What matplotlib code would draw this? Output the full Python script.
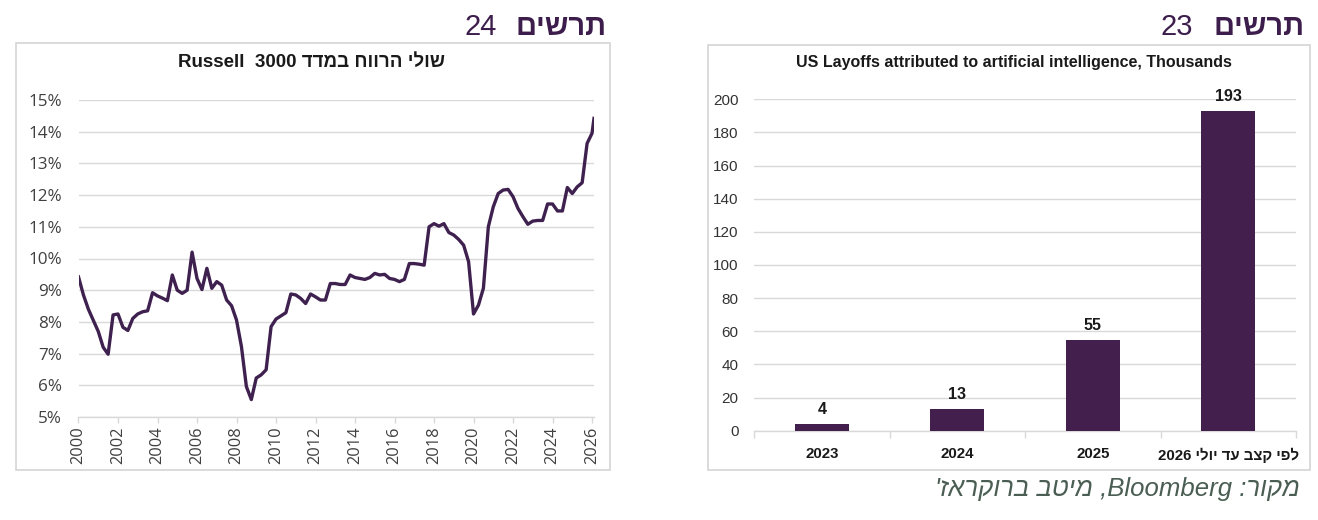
import re
import numpy as np
import matplotlib
matplotlib.use("Agg")
import matplotlib.pyplot as plt
from matplotlib.patches import Rectangle
from matplotlib import font_manager as fm

# ---------------- data ----------------
years = list(np.arange(2000, 2026.01, 0.25)) + [2026.1]
margin = [
    9.42, 8.85, 8.40, 8.05,
    7.70, 7.20, 6.98, 8.22,
    8.25, 7.83, 7.73, 8.11,
    8.25, 8.32, 8.35, 8.92,
    8.82, 8.75, 8.67, 9.48,
    9.00, 8.90, 9.00, 10.20,
    9.37, 9.02, 9.69, 9.06,
    9.27, 9.16, 8.69, 8.51,
    8.06, 7.22, 5.96, 5.55,
    6.23, 6.33, 6.49, 7.85,
    8.09, 8.19, 8.29, 8.88,
    8.85, 8.74, 8.58, 8.88,
    8.79, 8.69, 8.69, 9.21,
    9.21, 9.18, 9.18, 9.48,
    9.40, 9.37, 9.34, 9.40,
    9.53, 9.48, 9.50, 9.37,
    9.34, 9.27, 9.34, 9.84,
    9.84, 9.82, 9.79, 11.00,
    11.10, 11.02, 11.10, 10.82,
    10.74, 10.60, 10.42, 9.90,
    8.25, 8.53, 9.06, 11.00,
    11.63, 12.05, 12.16, 12.18,
    11.95, 11.58, 11.32, 11.08,
    11.18, 11.20, 11.20, 11.72,
    11.72, 11.50, 11.50, 12.24,
    12.05, 12.26, 12.39, 13.63,
    13.95, 14.42,
]
left_yticks = [5, 6, 7, 8, 9, 10, 11, 12, 13, 14, 15]
left_xticks = [2000, 2002, 2004, 2006, 2008, 2010, 2012, 2014, 2016, 2018, 2020, 2022, 2024, 2026]

layoff_cats = ["2023", "2024", "2025", "לפי קצב עד יולי 2026"]
layoff_vals = [4, 13, 55, 193]
right_yticks = [0, 20, 40, 60, 80, 100, 120, 140, 160, 180, 200]

left_head_word, left_head_num = "תרשים", "24"
right_head_word, right_head_num = "תרשים", "23"
left_title = "שולי הרווח במדד Russell  3000"
right_title = "US Layoffs attributed to artificial intelligence, Thousands"
source_text = "מקור: Bloomberg, מיטב ברוקראז'"

# ---------------- helpers ----------------
LTR = r"[A-Za-z0-9][A-Za-z0-9 ]*[A-Za-z0-9]|[A-Za-z0-9]"


def visual(s):
    """Simple RTL-paragraph reordering for display (matplotlib has no bidi)."""
    parts = re.split("(" + LTR + ")", s)
    out = [p if re.fullmatch(LTR, p) else p[::-1] for p in parts]
    return "".join(reversed(out))


def has_font(name):
    try:
        fm.findfont(fm.FontProperties(family=name), fallback_to_default=False)
        return True
    except Exception:
        return False


HEB = ["Liberation Sans", "DejaVu Sans"]
NARROW = ["Liberation Sans Narrow", "Liberation Sans", "DejaVu Sans"] if has_font("Liberation Sans Narrow") else ["Liberation Sans", "DejaVu Sans"]
TICKF = ["Open Sans", "Noto Sans", "DejaVu Sans"]

W, H = 1318, 520
HEAD = "#3c1d4b"
LINE = "#3f2150"
BAR = "#431f4e"
GRID = "#d9d9d9"
TXT = "#404040"


def rect(l, t, r, b):
    return [l / W, 1 - b / H, (r - l) / W, (b - t) / H]


fig = plt.figure(figsize=(W / 100, H / 100), dpi=100)
fig.patch.set_facecolor("white")

# panel frames (behind the axes)
for (l, t, r, b) in [(16, 43, 610, 470), (708, 45, 1310, 470)]:
    fr = Rectangle((l / W, 1 - b / H), (r - l) / W, (b - t) / H,
                   transform=fig.transFigure, facecolor="white",
                   edgecolor="#d4d4d4", lw=1.2, zorder=-5)
    fig.add_artist(fr)

# headlines
for x_word, x_num, word, num in [(607, 497, left_head_word, left_head_num),
                                 (1305, 1193, right_head_word, right_head_num)]:
    fig.text(x_word / W, 1 - 27 / H, visual(word), ha="right", va="center",
             fontsize=21, fontweight="bold", family=HEB, color=HEAD)
    fig.text(x_num / W, 1 - 27 / H, num, ha="right", va="center",
             fontsize=21, family=HEB, color=HEAD)

# ---------------- left: line chart ----------------
ax1 = fig.add_axes(rect(78.5, 100, 594, 417))
ax1.set_zorder(2)
ax1.plot(years, margin, color=LINE, lw=2.4, solid_joinstyle="round", zorder=3)
ax1.set_xlim(2000, 2026.1)
ax1.set_ylim(5, 15)
ax1.set_yticks(left_yticks)
ax1.set_yticklabels([f"{v}%" for v in left_yticks], family=TICKF, fontsize=12.3, color=TXT)
ax1.set_xticks(left_xticks)
ax1.set_xticklabels([str(v) for v in left_xticks], rotation=90, family=TICKF,
                    fontsize=11.8, color=TXT)
ax1.grid(axis="y", color=GRID, lw=1.0)
ax1.set_axisbelow(True)
for s in ["top", "right", "left"]:
    ax1.spines[s].set_visible(False)
ax1.spines["bottom"].set_color(GRID)
ax1.spines["bottom"].set_linewidth(1.0)
ax1.tick_params(axis="y", length=0, pad=12)
ax1.tick_params(axis="x", length=4, width=1, color=GRID, pad=3)
ax1.patch.set_alpha(0)

fig.text(312 / W, 1 - 62 / H, visual(left_title), ha="center", va="center",
         fontsize=13.5, fontweight="bold", family=HEB, color="#1a1a1a")

# ---------------- right: bar chart ----------------
ax2 = fig.add_axes(rect(754, 99.3, 1296, 430.7))
ax2.set_zorder(2)
xpos = np.arange(len(layoff_vals))
bars = ax2.bar(xpos, layoff_vals, width=0.4, color=BAR, zorder=3)
ax2.bar_label(bars, labels=[str(v) for v in layoff_vals], padding=5,
              fontsize=11.5, fontweight="bold", family=NARROW, color="#1a1a1a")
ax2.set_xlim(-0.5, len(layoff_vals) - 0.5)
ax2.set_ylim(0, 200)
ax2.set_yticks(right_yticks)
ax2.set_yticklabels([str(v) for v in right_yticks], family=NARROW, fontsize=11, color="#333333")
ax2.set_xticks(xpos)
ax2.set_xticklabels([visual(c) for c in layoff_cats], family=NARROW, fontsize=10.8,
                    fontweight="bold", color="#1a1a1a")
ax2.set_xticks(np.arange(-0.5, len(layoff_vals), 1.0), minor=True)
ax2.tick_params(axis="x", which="major", length=0, pad=12)
ax2.tick_params(axis="x", which="minor", length=5, width=1, color=GRID)
ax2.tick_params(axis="y", length=0, pad=11)
ax2.grid(axis="y", color=GRID, lw=1.0)
ax2.set_axisbelow(True)
for s in ["top", "right", "left"]:
    ax2.spines[s].set_visible(False)
ax2.spines["bottom"].set_color(GRID)
ax2.spines["bottom"].set_linewidth(1.0)
ax2.patch.set_alpha(0)

fig.text(1014 / W, 1 - 62 / H, right_title, ha="center", va="center",
         fontsize=11.5, fontweight="bold", family=NARROW, color="#1a1a1a")

# source line
fig.text(1300 / W, 1 - 489 / H, visual(source_text), ha="right", va="center",
         fontsize=18.5, style="italic", family=HEB, color="#4b5e53")

fig.savefig("out.png", dpi=100, facecolor="white")
